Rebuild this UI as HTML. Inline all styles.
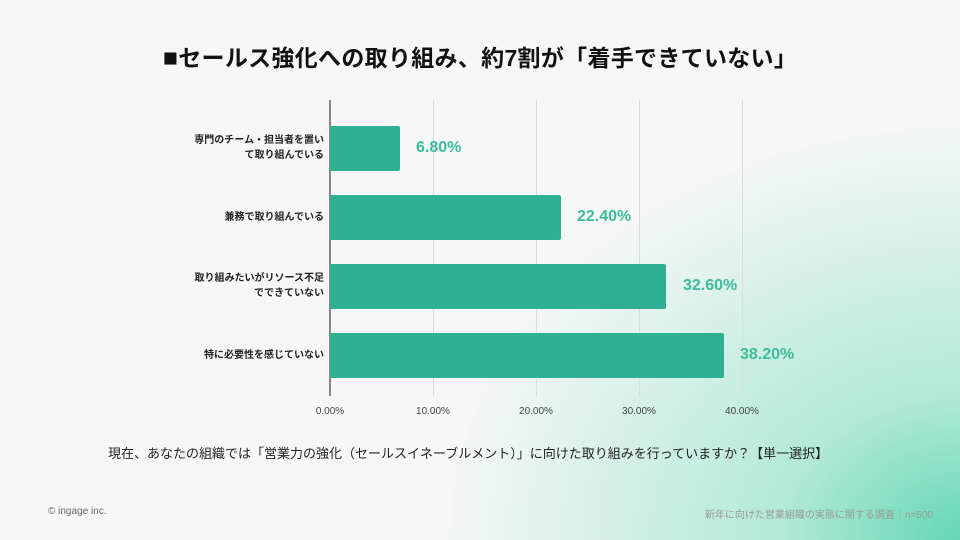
<!DOCTYPE html>
<html><head><meta charset="utf-8"><style>
html,body{margin:0;width:960px;height:540px;overflow:hidden;font-family:"Liberation Sans","Noto Sans CJK JP",sans-serif;}
#bg{position:absolute;left:0;top:0;width:960px;height:540px;background:#f7f7f7;overflow:hidden}
.glow{position:absolute;left:0;top:0;width:960px;height:540px;background:radial-gradient(ellipse 520px 420px at 100% 100%,rgba(100,215,180,1) 0%,rgba(150,228,200,0.7) 35%,rgba(247,247,247,0) 100%);}
.t{position:absolute;white-space:nowrap}
.grid{position:absolute;top:100px;height:296px;width:1px;background:#dcdcdc}
.bar{position:absolute;left:330px;height:45px;background:#2fb092;border-radius:0 2px 2px 0}
.val{position:absolute;font-weight:bold;font-size:16px;color:#3cbc9c}
.lab{position:absolute;right:636px;text-align:right;font-size:10px;font-weight:bold;color:#222;line-height:15px}
.tick{position:absolute;top:406px;font-size:10px;color:#444;width:60px;text-align:center}
</style></head><body><div id="bg">
<div class="glow"></div>
<div class="t" style="left:0;width:960px;text-align:center;top:39px;font-size:23px;font-weight:bold;color:#111;letter-spacing:0.3px"><span style="font-size:25px">■</span>セールス強化への取り組み、約7割が「着手できていない」</div>
<div class="grid" style="left:433px"></div>
<div class="grid" style="left:536px"></div>
<div class="grid" style="left:639px"></div>
<div class="grid" style="left:742px"></div>
<div style="position:absolute;left:329px;top:100px;width:1.5px;height:296px;background:#888"></div>
<div class="bar" style="top:126px;width:70px"></div>
<div class="bar" style="top:195px;width:231px"></div>
<div class="bar" style="top:264px;width:336px"></div>
<div class="bar" style="top:333px;width:394px"></div>
<div class="val" style="left:416px;top:139px">6.80%</div>
<div class="val" style="left:577px;top:208px">22.40%</div>
<div class="val" style="left:683px;top:277px">32.60%</div>
<div class="val" style="left:740px;top:346px">38.20%</div>
<div class="lab" style="top:133px">専門のチーム・担当者を置い<br>て取り組んでいる</div>
<div class="lab" style="top:210px">兼務で取り組んでいる</div>
<div class="lab" style="top:271px">取り組みたいがリソース不足<br>でできていない</div>
<div class="lab" style="top:348px">特に必要性を感じていない</div>
<div class="tick" style="left:300px">0.00%</div>
<div class="tick" style="left:403px">10.00%</div>
<div class="tick" style="left:506px">20.00%</div>
<div class="tick" style="left:609px">30.00%</div>
<div class="tick" style="left:712px">40.00%</div>
<div class="t" style="left:108px;top:443px;font-size:13px;color:#222">現在、あなたの組織では「営業力の強化（セールスイネーブルメント）」に向けた取り組みを行っていますか？【単一選択】</div>
<div class="t" style="left:48px;top:506px;font-size:10px;color:#666">© ingage inc.</div>
<div class="t" style="right:27px;top:506px;font-size:10px;color:#999">新年に向けた営業組織の実態に関する調査｜n=500</div>
</div></body></html>
